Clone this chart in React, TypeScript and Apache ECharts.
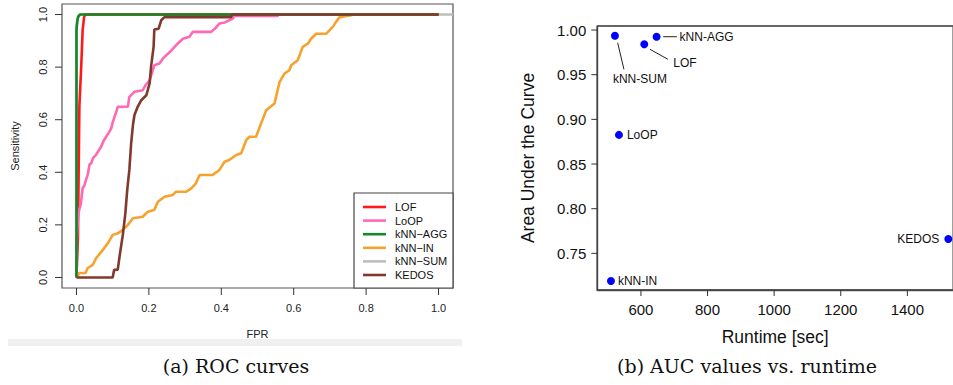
import React, { useEffect, useRef } from "react";
import * as echarts from "echarts";

// ---------- Panel (a): ROC curves ----------
const rocNames = ["LOF", "LoOP", "kNN−AGG", "kNN−IN", "kNN−SUM", "KEDOS"];
const rocColors = ["#ff1a1a", "#ff69b4", "#12882a", "#f5a32e", "#bebebe", "#82392d"];

const lofRoc = [
  [0, 0], [0.004, 0.15], [0.006, 0.4], [0.008, 0.65], [0.013, 0.8], [0.017, 0.94],
  [0.021, 0.99], [0.024, 1], [1, 1],
];
const loopRoc = [
  [0, 0], [0.001, 0.15], [0.003, 0.2], [0.005, 0.24], [0.008, 0.26], [0.012, 0.28],
  [0.017, 0.34], [0.022, 0.35], [0.026, 0.37], [0.031, 0.39], [0.036, 0.43], [0.041, 0.435],
  [0.046, 0.455], [0.054, 0.466], [0.06, 0.48], [0.068, 0.497], [0.075, 0.52], [0.082, 0.535],
  [0.089, 0.55], [0.096, 0.567], [0.1, 0.59], [0.105, 0.611], [0.11, 0.63], [0.114, 0.649],
  [0.142, 0.649], [0.146, 0.687], [0.16, 0.706], [0.183, 0.712], [0.19, 0.73], [0.202, 0.75],
  [0.215, 0.807], [0.229, 0.814], [0.24, 0.835], [0.248, 0.845], [0.26, 0.86], [0.271, 0.877],
  [0.28, 0.89], [0.294, 0.908], [0.312, 0.915], [0.321, 0.934], [0.372, 0.934], [0.385, 0.95],
  [0.395, 0.966], [0.41, 0.97], [0.432, 0.985], [0.436, 0.995], [0.555, 0.995], [0.56, 1], [1, 1],
];
const knnAggRoc = [
  [0, 0], [0, 0.94], [0.002, 0.975], [0.005, 0.993], [0.01, 1], [1, 1],
];
const knnInRoc = [
  [0, 0], [0.008, 0.017], [0.025, 0.017], [0.031, 0.036], [0.045, 0.048], [0.054, 0.073],
  [0.073, 0.105], [0.087, 0.131], [0.1, 0.162], [0.114, 0.168], [0.128, 0.181], [0.142, 0.2],
  [0.156, 0.225], [0.183, 0.231], [0.197, 0.25], [0.215, 0.257], [0.225, 0.288], [0.243, 0.307],
  [0.266, 0.314], [0.275, 0.326], [0.303, 0.326], [0.317, 0.339], [0.33, 0.358], [0.34, 0.39],
  [0.376, 0.39], [0.395, 0.409], [0.409, 0.44], [0.422, 0.447], [0.441, 0.466], [0.455, 0.472],
  [0.469, 0.523], [0.478, 0.535], [0.496, 0.535], [0.51, 0.586], [0.524, 0.636], [0.547, 0.662],
  [0.561, 0.744], [0.575, 0.776], [0.588, 0.788], [0.593, 0.807], [0.611, 0.826], [0.625, 0.877],
  [0.639, 0.889], [0.648, 0.908], [0.662, 0.927], [0.69, 0.927], [0.708, 0.953], [0.717, 0.972],
  [0.727, 0.99], [0.759, 0.997], [0.765, 1], [1, 1],
];
const knnSumRoc = [
  [0, 0], [0, 0.95], [0.004, 0.99], [0.01, 1], [1.04, 1],
];
const kedosRoc = [
  [0, 0], [0.1, 0], [0.104, 0.029], [0.114, 0.03], [0.119, 0.08], [0.128, 0.162],
  [0.135, 0.244], [0.14, 0.33], [0.146, 0.409], [0.151, 0.51], [0.156, 0.58], [0.16, 0.617],
  [0.169, 0.649], [0.179, 0.674], [0.193, 0.693], [0.202, 0.738], [0.206, 0.801], [0.213, 0.877],
  [0.215, 0.943], [0.227, 0.946], [0.234, 0.978], [0.243, 0.99], [0.427, 0.99], [0.43, 1], [1, 1],
];
const rocData = [lofRoc, loopRoc, knnAggRoc, knnInRoc, knnSumRoc, kedosRoc];
const rocZ = [3, 3, 5, 3, 2, 6];

const fprTicks = [0, 0.2, 0.4, 0.6, 0.8, 1.0];
const sensTicks = [0, 0.2, 0.4, 0.6, 0.8, 1.0];

// ---------- Panel (b): AUC vs runtime ----------
const methods = ["kNN-SUM", "LOF", "kNN-AGG", "LoOP", "kNN-IN", "KEDOS"];
const runtimeSec = [522, 610, 647, 534, 510, 1523];
const aucValues = [0.9936, 0.984, 0.9925, 0.8826, 0.719, 0.766];
const runtimeTicks = [600, 800, 1000, 1200, 1400];
const aucTicks = [0.75, 0.8, 0.85, 0.9, 0.95, 1.0];

const A_MIN = -0.04, A_MAX = 1.04;
const RT_MIN = 469, RT_MAX = 1537;
const AUC_MIN = 0.709, AUC_MAX = 1.0045;

const SANS = "Liberation Sans";
const SERIF = "DejaVu Serif";

// label placement per method (style, not data)
const labelPlacement: Record<string, any> = {
  "kNN-SUM": { position: "inside", offset: [25, 43.3] },
  LOF: { position: "right", distance: 25, offset: [0, 18.4] },
  "kNN-AGG": { position: "right", distance: 19 },
  LoOP: { position: "right", distance: 4 },
  "kNN-IN": { position: "right", distance: 3 },
  KEDOS: { position: "left", distance: 5 },
};
const leaderLines: Record<string, number[]> = {
  "kNN-AGG": [6.6, 0, 20.3, 0],
  LOF: [5.7, 5, 23.7, 15],
  "kNN-SUM": [2.7, 7, 9, 33.6],
};

export default function App() {
  const ref = useRef<HTMLDivElement>(null);
  useEffect(() => {
    if (!ref.current) return;
    const chart = echarts.init(ref.current, undefined, { renderer: "svg" });

    const legendGraphics: any[] = [
      {
        type: "rect",
        shape: { x: 354, y: 193, width: 99, height: 95 },
        style: { fill: "#fff", stroke: "#444", lineWidth: 1.2 },
        z: 100,
      },
    ];
    rocNames.forEach((n, i) => {
      const y = 207 + i * 13.6;
      legendGraphics.push({
        type: "line",
        shape: { x1: 363, y1: y, x2: 386, y2: y },
        style: { stroke: rocColors[i], lineWidth: 2.6 },
        z: 101,
      });
      legendGraphics.push({
        type: "text",
        x: 395,
        y,
        style: { text: n, fontFamily: SANS, fontSize: 11, fill: "#111", verticalAlign: "middle", align: "left" },
        z: 101,
      });
    });

    const baseGraphics: any[] = [
      {
        type: "rect",
        shape: { x: 8, y: 339, width: 454, height: 7 },
        style: { fill: "#f0f0f0" },
        z: 0,
      },
      {
        type: "text",
        x: 236,
        y: 366,
        style: { text: "(a) ROC curves", fontFamily: SERIF, fontSize: 19, fill: "#111", align: "center", verticalAlign: "middle" },
      },
      {
        type: "text",
        x: 747,
        y: 366,
        style: { text: "(b) AUC values vs. runtime", fontFamily: SERIF, fontSize: 19, fill: "#111", align: "center", verticalAlign: "middle" },
      },
      ...legendGraphics,
    ];

    const option: any = {
      animation: false,
      grid: [
        { left: 62, top: 4, width: 391, height: 284, show: true, borderColor: "#555", borderWidth: 1.2 },
        { left: 597.3, top: 26, right: 0, height: 264, show: true, borderColor: "#777", borderWidth: 1.4 },
      ],
      xAxis: [
        {
          type: "value", gridIndex: 0, min: A_MIN, max: A_MAX,
          axisLine: { show: false, onZero: false },
          axisTick: { show: false },
          axisLabel: { customValues: fprTicks, formatter: (v: number) => v.toFixed(1), fontFamily: SANS, fontSize: 11, color: "#222", margin: 14 },
          splitLine: { show: false },
          name: "FPR", nameLocation: "middle", nameGap: 40,
          nameTextStyle: { fontFamily: SANS, fontSize: 11, color: "#222" },
        },
        {
          type: "value", gridIndex: 1, min: RT_MIN, max: RT_MAX,
          axisLine: { show: true, onZero: false, lineStyle: { color: "#555", width: 1.4 } },
          axisTick: { show: false },
          axisLabel: { customValues: runtimeTicks, formatter: (v: number) => String(v), fontFamily: SANS, fontSize: 15, color: "#111", margin: 12 },
          splitLine: { show: false },
          name: "Runtime [sec]", nameLocation: "middle", nameGap: 38,
          nameTextStyle: { fontFamily: SANS, fontSize: 17.5, color: "#111" },
        },
      ],
      yAxis: [
        {
          type: "value", gridIndex: 0, min: A_MIN, max: A_MAX,
          axisLine: { show: false, onZero: false },
          axisTick: { show: false },
          axisLabel: { customValues: sensTicks, rotate: 90, formatter: (v: number) => v.toFixed(1), fontFamily: SANS, fontSize: 11, color: "#222", margin: 14 },
          splitLine: { show: false },
          name: "Sensitivity", nameLocation: "middle", nameGap: 42, nameRotate: 90,
          nameTextStyle: { fontFamily: SANS, fontSize: 11, color: "#222" },
        },
        {
          type: "value", gridIndex: 1, min: AUC_MIN, max: AUC_MAX,
          axisLine: { show: true, onZero: false, lineStyle: { color: "#555", width: 1.4 } },
          axisTick: { show: false },
          axisLabel: { customValues: aucTicks, formatter: (v: number) => v.toFixed(2), fontFamily: SANS, fontSize: 15, color: "#111", margin: 11 },
          splitLine: { show: false },
          name: "Area Under the Curve", nameLocation: "middle", nameGap: 60, nameRotate: 90,
          nameTextStyle: { fontFamily: SANS, fontSize: 17.5, color: "#111" },
        },
      ],
      series: [
        ...rocNames.map((n, i) => ({
          type: "line",
          name: n,
          xAxisIndex: 0,
          yAxisIndex: 0,
          data: rocData[i],
          showSymbol: false,
          symbol: "none",
          z: rocZ[i],
          clip: false,
          lineStyle: { color: rocColors[i], width: 2.6 },
          itemStyle: { color: rocColors[i] },
        })),
        {
          type: "scatter",
          name: "AUC",
          xAxisIndex: 1,
          yAxisIndex: 1,
          symbolSize: 8,
          itemStyle: { color: "#0000ff", opacity: 1 },
          clip: false,
          data: methods.map((m, i) => ({
            name: m,
            value: [runtimeSec[i], aucValues[i]],
            label: {
              show: true,
              formatter: m,
              fontFamily: SANS,
              fontSize: 12,
              color: "#111",
              ...labelPlacement[m],
            },
          })),
        },
      ],
      graphic: baseGraphics,
    };
    chart.setOption(option);

    const extra: any[] = [];
    const seg = (x1: number, y1: number, x2: number, y2: number, stroke: string, lineWidth: number) =>
      extra.push({ type: "line", shape: { x1, y1, x2, y2 }, style: { stroke, lineWidth }, z: 60 });
    const px = (g: number, v: number[]) => chart.convertToPixel({ gridIndex: g } as any, v) as number[];

    // panel (a) ticks
    const aLo = px(0, [A_MIN, A_MIN]);
    fprTicks.forEach((t) => {
      const p = px(0, [t, A_MIN]);
      seg(p[0], aLo[1], p[0], aLo[1] + 7, "#333", 1);
    });
    sensTicks.forEach((t) => {
      const p = px(0, [A_MIN, t]);
      seg(aLo[0] - 7, p[1], aLo[0], p[1], "#333", 1);
    });

    // panel (b) frame and ticks
    const bLo = px(1, [RT_MIN, AUC_MIN]);
    const bHi = px(1, [RT_MAX, AUC_MAX]);
    seg(bLo[0], bHi[1], 953, bHi[1], "#555", 1.4);
    seg(bLo[0], bHi[1], bLo[0], bLo[1], "#444", 1.4);
    seg(bLo[0], bLo[1], 953, bLo[1], "#444", 1.4);
    runtimeTicks.forEach((t) => {
      const p = px(1, [t, AUC_MIN]);
      seg(p[0], bLo[1], p[0], bLo[1] + 6, "#333", 1);
    });
    aucTicks.forEach((t) => {
      const p = px(1, [RT_MIN, t]);
      seg(bLo[0] - 6, p[1], bLo[0], p[1], "#333", 1);
    });

    // leader lines
    methods.forEach((m, i) => {
      const s = leaderLines[m];
      if (!s) return;
      const p = px(1, [runtimeSec[i], aucValues[i]]);
      seg(p[0] + s[0], p[1] + s[1], p[0] + s[2], p[1] + s[3], "#222", 1);
    });
    chart.setOption({ graphic: [...baseGraphics, ...extra] });

    return () => chart.dispose();
  }, []);
  return (
    <div
      ref={ref}
      style={{ position: "fixed", left: 0, top: 0, width: 953, height: 385, background: "#fff" }}
    />
  );
}
